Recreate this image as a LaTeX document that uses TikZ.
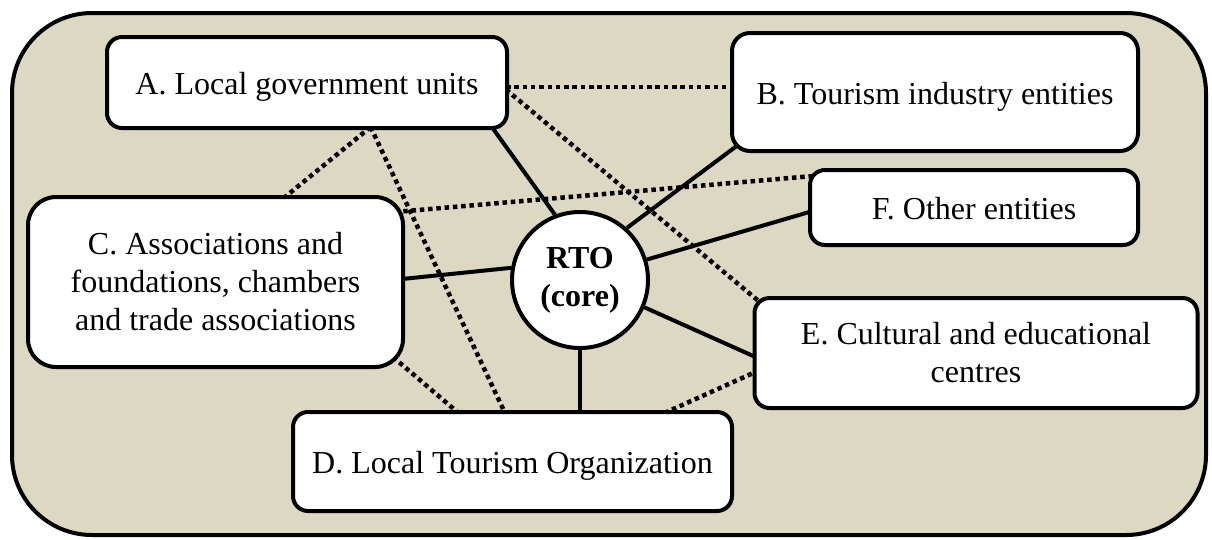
\documentclass[tikz,border=0pt]{standalone}
\usepackage{fontspec}
\IfFontExistsTF{LiberationSerif-Regular.ttf}
  {\setmainfont{LiberationSerif}[Extension=.ttf,UprightFont=*-Regular,BoldFont=*-Bold,ItalicFont=*-Italic,BoldItalicFont=*-BoldItalic]}
  {\setmainfont{Liberation Serif}}
\usetikzlibrary{calc}
\definecolor{framefill}{RGB}{221,216,194}
\pgfdeclarelayer{bg}
\pgfdeclarelayer{mid}
\pgfsetlayers{bg,mid,main}
\begin{document}
\begin{tikzpicture}[x=1pt,y=-1pt,
  box/.style={draw=black, line width=4pt, fill=white, rounded corners=15pt,
    align=center, inner sep=0pt, font=\rmfamily\fontsize{32}{38}\selectfont},
  oneline/.style={text height=24pt, text depth=0pt},
  core/.style={circle, draw=black, line width=4pt, fill=white, inner sep=0pt,
    minimum size=136pt, align=center, font=\rmfamily\fontsize{32}{38}\selectfont\bfseries},
  link/.style={draw=black, line width=4pt},
  weak/.style={draw=black, line width=4.5pt, dash pattern=on 4.5pt off 3.8pt}]
\useasboundingbox (0,0) rectangle (1212,539);
\begin{pgfonlayer}{bg}
  \draw[line width=4pt, fill=framefill, rounded corners=80pt] (12,13) rectangle (1206,535);
\end{pgfonlayer}

\node[box, oneline, minimum width=400pt, minimum height=91pt] (A) at (307,82.5) {A. Local government units};
\node[box, oneline, rounded corners=18pt, minimum width=406pt, minimum height=118pt] (B) at (935,92) {B. Tourism industry entities};
\node[box, oneline, minimum width=328pt, minimum height=75pt] (F) at (974,207.5) {F. Other entities};
\node[box, rounded corners=28pt, minimum width=375pt, minimum height=170pt] (C) at (215.5,282) {C. Associations and\\foundations, chambers\\and trade associations};
\node[core] (rto) at (580,280) {RTO\\(core)};
\node[box, minimum width=443pt, minimum height=110pt] (E) at (976,353) {E. Cultural and educational\\centres};
\node[box, oneline, minimum width=439pt, minimum height=99pt] (D) at (512.5,461.5) {D. Local Tourism Organization};

\begin{pgfonlayer}{mid}
  % solid links to the core
  \draw[link] ($(A.south west)!0.9575!(A.south east)+(0,-3)$) -- (rto.111);
  \draw[link] ($(B.south west)+(8,-8)$) -- (rto.48);
  \draw[link] ($(F.west)+(3,4)$) -- (rto.17);
  \draw[link] ($(C.east)+(-3,-3)$) -- (rto.170);
  \draw[link] (rto.-23) -- ($(E.west)+(3,4)$);
  \draw[link] (rto.south) -- (rto.south |- D.north);
  % dotted links
  \coordinate (a1) at ($(A.east)+(-3,4.5)$);
  \draw[weak] (a1) -- ($(a1 -| B.west)+(3,0)$);
  \draw[weak] ($(A.east)+(-3,7)$) -- ($(E.north west)+(6,5)$);
  \coordinate (a2) at ($(A.south west)!0.6575!(A.south east)+(0,-3)$);
  \draw[weak] (a2) -- ($(C.north west)!0.68!(C.north east)+(0,3)$);
  \draw[weak] (a2) -- ($(D.north west)!0.483!(D.north east)+(0,3)$);
  \draw[weak] ($(C.south east)+(-12,-12)$) -- ($(D.north west)!0.378!(D.north east)+(0,3)$);
  \draw[weak] ($(C.north east)+(-10,17)$) -- ($(F.north west)+(5,8)$);
  \draw[weak] ($(D.north west)!0.843!(D.north east)+(0,3)$) -- ($(E.west)+(3,19)$);
\end{pgfonlayer}
\end{tikzpicture}
\end{document}
